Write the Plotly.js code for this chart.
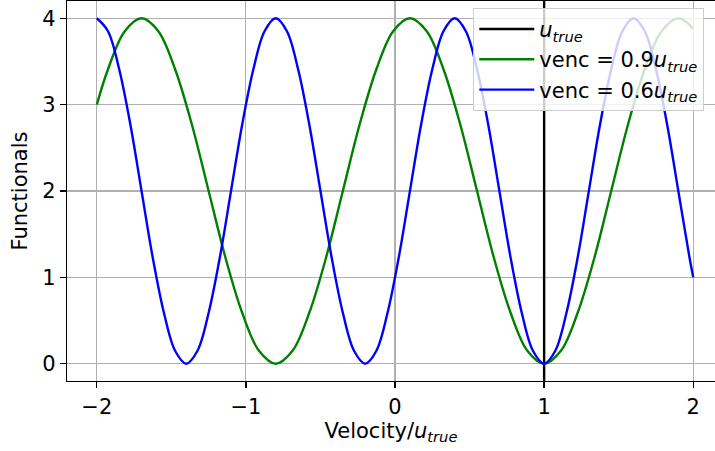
<!DOCTYPE html>
<html>
<head>
<meta charset="utf-8">
<script src="https://cdn.plot.ly/plotly-3.0.1.min.js"></script>
<style>html,body{margin:0;padding:0;background:#fff;}#chart{width:715px;height:451px;}</style>
</head>
<body>
<div id="chart"></div>
<script>
// Reference line at u_true
const trueX = [1, 1];
const trueY = [-0.2, 4.2];
// venc = 0.9 u_true
const greenX = [-2, -1.925, -1.8125, -1.7, -1.5875, -1.475, -1.3625, -1.25, -1.1375, -1.025, -0.9125, -0.8, -0.6875, -0.575, -0.4625, -0.35, -0.2375, -0.125, -0.0125, 0.1, 0.2125, 0.325, 0.4375, 0.55, 0.6625, 0.775, 0.8875, 1.0, 1.1125, 1.225, 1.3375, 1.45, 1.5625, 1.675, 1.7875, 1.9, 2.0];
const greenY = [3, 3.41, 3.85, 4, 3.85, 3.41, 2.77, 2, 1.23, 0.59, 0.15, 0, 0.15, 0.59, 1.23, 2, 2.77, 3.41, 3.85, 4, 3.85, 3.41, 2.77, 2, 1.23, 0.59, 0.15, 0, 0.15, 0.59, 1.23, 2, 2.77, 3.41, 3.85, 4, 3.88];
// venc = 0.6 u_true
const blueX = [-2, -1.925, -1.85, -1.775, -1.7, -1.625, -1.55, -1.475, -1.4, -1.325, -1.25, -1.175, -1.1, -1.025, -0.95, -0.875,
  -0.8, -0.725, -0.65, -0.575, -0.5, -0.425, -0.35, -0.275, -0.2, -0.125, -0.05, 0.025, 0.1, 0.175, 0.25, 0.325,
  0.4, 0.475, 0.55, 0.625, 0.7, 0.775, 0.85, 0.925, 1.0, 1.075, 1.15, 1.225, 1.3, 1.375, 1.45, 1.525,
  1.6, 1.675, 1.75, 1.825, 1.9, 1.975, 2.0];
const blueY = [4, 3.85, 3.41, 2.77, 2, 1.23, 0.59, 0.15, 0, 0.15, 0.59, 1.23, 2, 2.77, 3.41, 3.85,
  4, 3.85, 3.41, 2.77, 2, 1.23, 0.59, 0.15, 0, 0.15, 0.59, 1.23, 2, 2.77, 3.41, 3.85,
  4, 3.85, 3.41, 2.77, 2, 1.23, 0.59, 0.15, 0, 0.15, 0.59, 1.23, 2, 2.77, 3.41, 3.85,
  4, 3.85, 3.41, 2.77, 2, 1.23, 1];
const xTicks = [-2, -1, 0, 1, 2];
const yTicks = [0, 1, 2, 3, 4];
const names = ['<i>u</i><sub><i>true</i></sub>', 'venc = 0.9<i>u</i><sub><i>true</i></sub>', 'venc = 0.6<i>u</i><sub><i>true</i></sub>'];

const font = {family: 'DejaVu Sans', size: 21, color: '#000'};
const traces = [
  {x: trueX, y: trueY, mode: 'lines', name: names[0], legendgroup: 'a', line: {color: '#000', width: 2.4}},
  {x: greenX, y: greenY, mode: 'lines', name: names[1], legendgroup: 'b', line: {color: 'green', width: 2.4, shape: 'spline', smoothing: 1}},
  {x: blueX, y: blueY, mode: 'lines', name: names[2], legendgroup: 'c', line: {color: 'blue', width: 2.4, shape: 'spline', smoothing: 1}}
];
const axisCommon = {
  showline: true, linecolor: '#000', linewidth: 1.3, mirror: true,
  ticks: 'outside', ticklen: 6, tickwidth: 1.3, tickcolor: '#000',
  showgrid: true, gridcolor: '#b0b0b0', gridwidth: 1.1, zeroline: false,
  tickfont: font
};
const layout = {
  width: 715, height: 451,
  margin: {l: 67, r: 0, t: 1, b: 70},
  paper_bgcolor: '#fff', plot_bgcolor: '#fff',
  font: font,
  showlegend: true,
  legend: {x: 0.627, y: 0.982, xanchor: 'left', yanchor: 'top', bgcolor: 'rgba(255,255,255,0.8)', bordercolor: '#cccccc', borderwidth: 1, tracegroupgap: 0, itemwidth: 55, font: {family: 'DejaVu Sans', size: 21, color: '#000'}},
  xaxis: Object.assign({}, axisCommon, {range: [-2.2, 2.146], tickvals: xTicks, title: {text: 'Velocity/<i>u</i><sub><i>true</i></sub>', font: font, standoff: 5}}),
  yaxis: Object.assign({}, axisCommon, {range: [-0.2, 4.2], tickvals: yTicks, title: {text: 'Functionals', font: font, standoff: 8}})
};
Plotly.newPlot('chart', traces, layout, {displayModeBar: false, staticPlot: true});
</script>
</body>
</html>
